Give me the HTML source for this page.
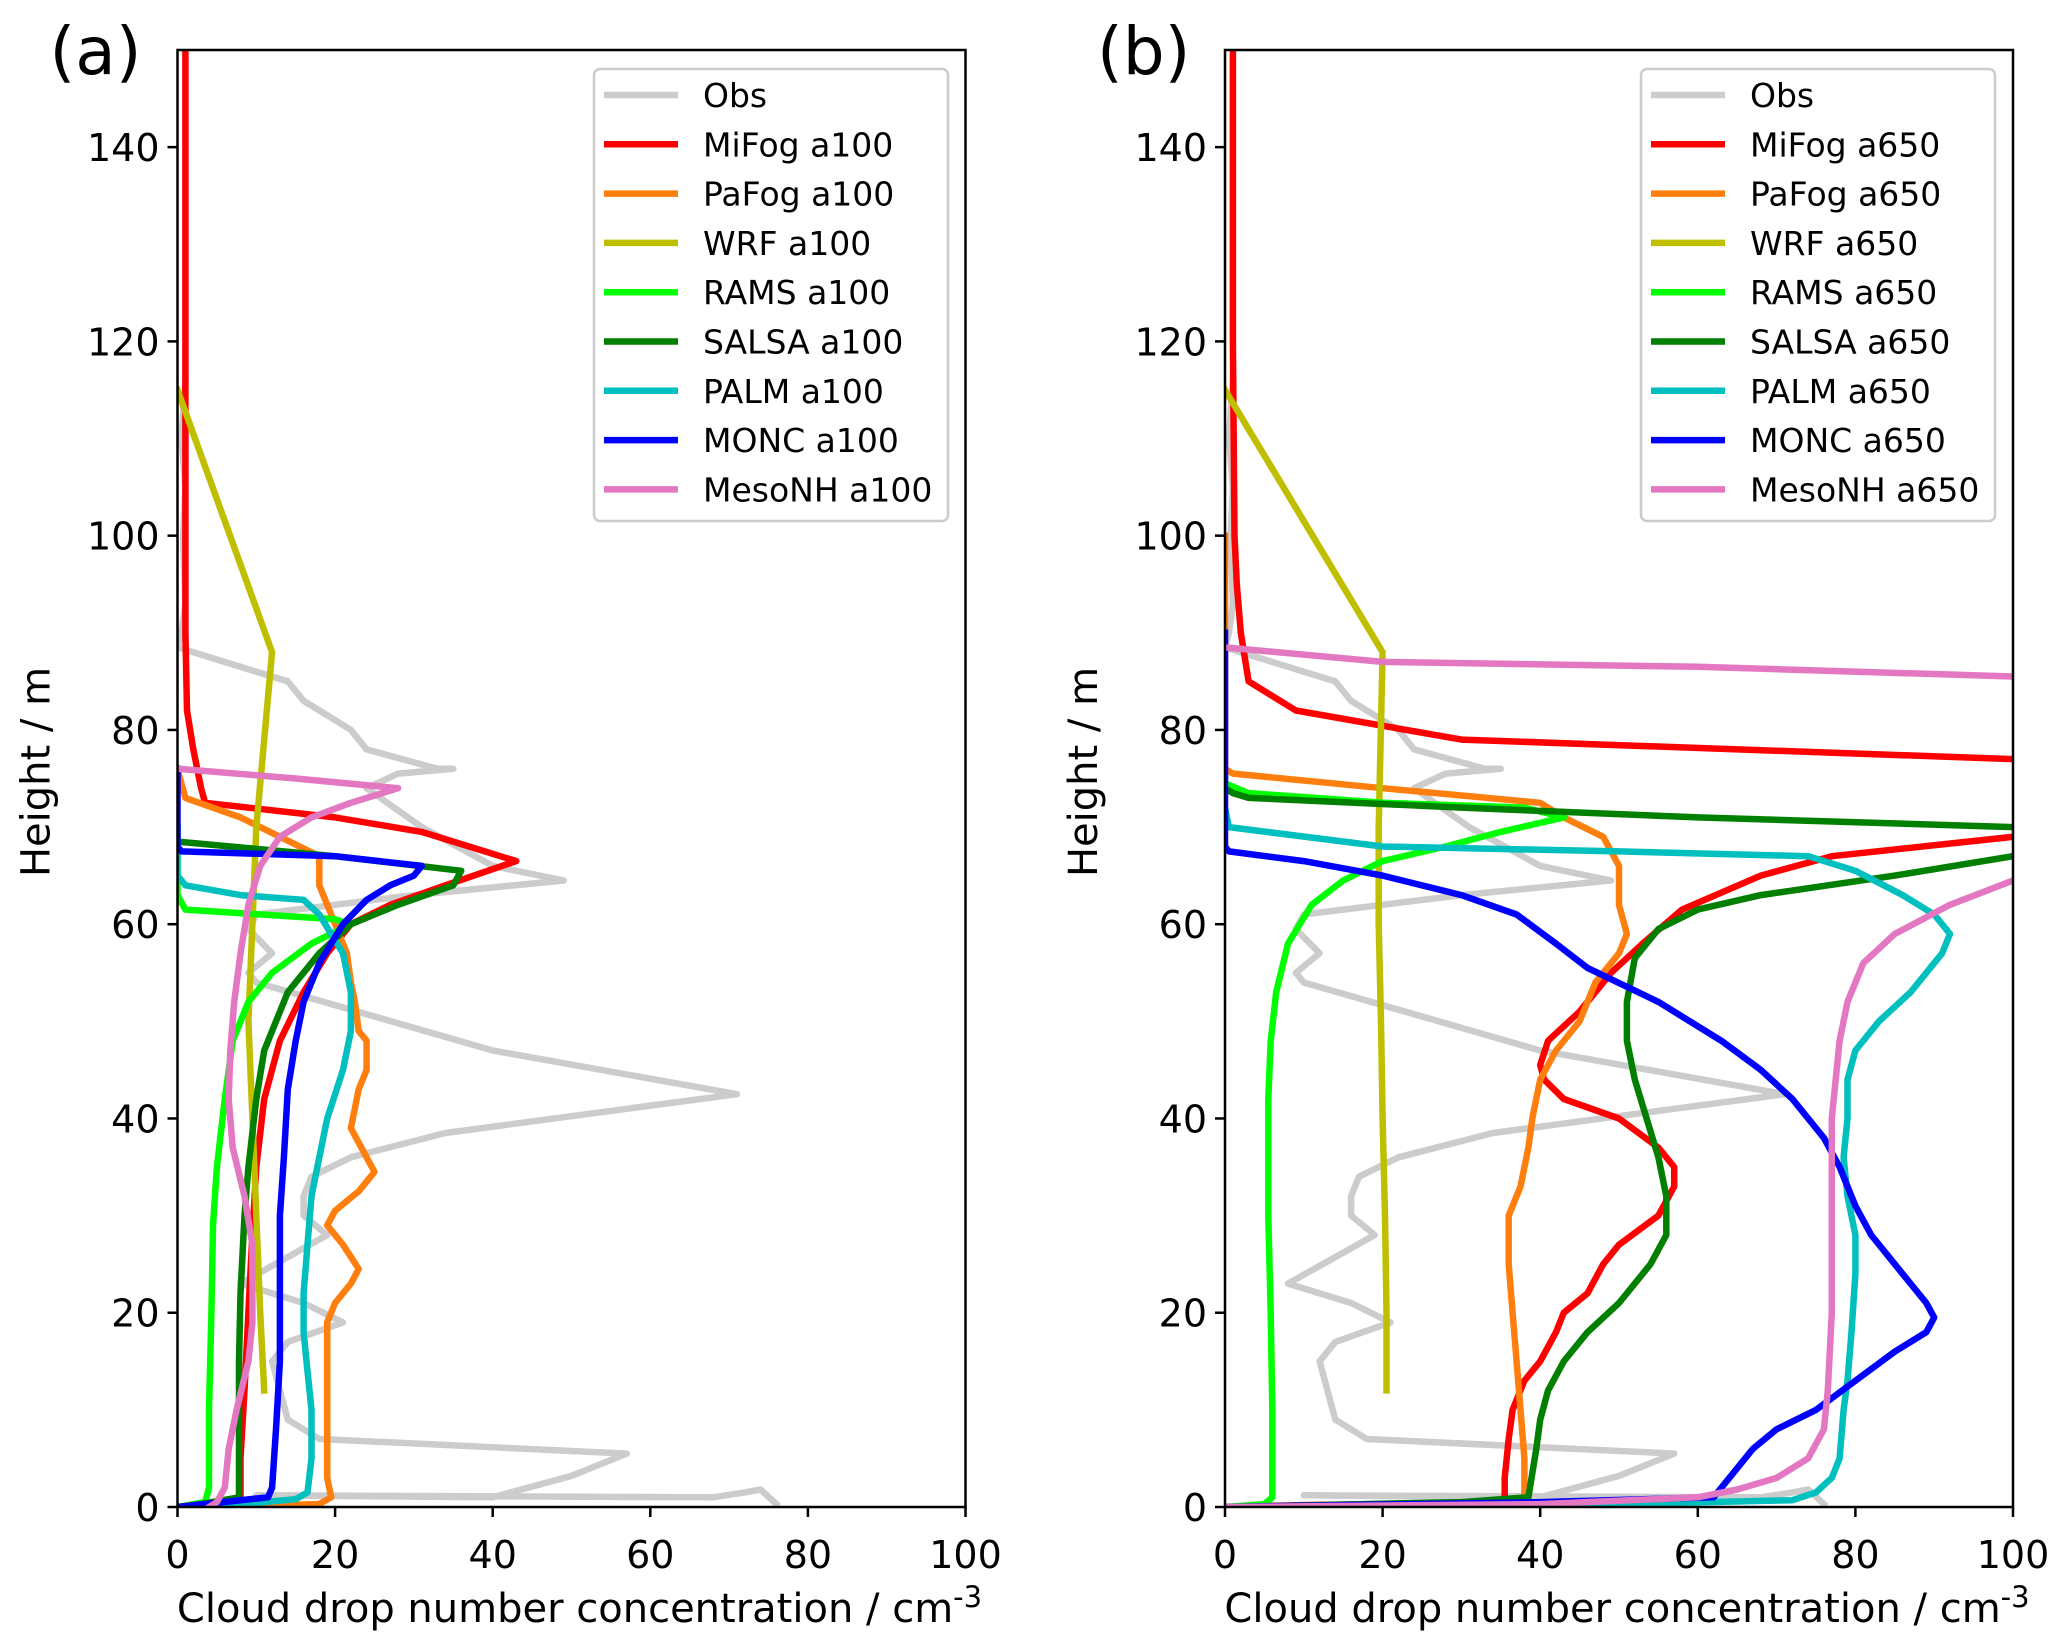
<!DOCTYPE html>
<html><head><meta charset="utf-8"><style>
html,body{margin:0;padding:0;background:#fff;}
svg{display:block;font-family:"DejaVu Sans","Liberation Sans",sans-serif;}
</style></head><body>
<svg id="fig" width="2067" height="1648" viewBox="0 0 2067 1648" xmlns="http://www.w3.org/2000/svg"></svg>
<script>
const xTicks=[0,20,40,60,80,100];
const yTicks=[0,20,40,60,80,100,120,140];
const seriesNames=["Obs","MiFog","PaFog","WRF","RAMS","SALSA","PALM","MONC","MesoNH"];
const seriesColors=["#cccccc","#ff0000","#ff7f0e","#bfbf00","#00ff00","#007f00","#00bfbf","#0000ff","#e377c2"];
const obs=[[1,116],[0.5,110],[1,105],[0.7,100],[1,93],[0.5,90],[0,88.5],[10,86],[14,85],[16,83],[22,80],[24,78],[33,76],[35,76],[28,75.5],[24,74],[31,70],[40,66],[49,64.5],[30,63],[10,61],[9,59.5],[12,57],[9,55],[10,54],[40,47],[71,42.5],[57,41],[34,38.5],[22,36],[17,34],[16,32],[16,30],[19,28],[8,23],[16,21],[21,19],[14,17],[12,15],[14,9],[18,7],[57,5.5],[50,3.2],[40,1],[10,1.2],[68,1],[72,1.5],[74,1.8],[76,0.3]];
const aMiFog=[[1,150],[1,120],[1,100],[1,90],[1.2,82],[2,78],[3,74],[3.5,72.5],[20,71],[31,69.5],[43,66.5],[34,64],[27,62],[22,60],[19,57],[16,53],[13,48],[11,42],[10,35],[9.5,28],[9,20],[8.5,12],[8,5],[8,1],[3,0.3],[0,0]];
const aPaFog=[[0,76],[1,73],[8,71],[13,69],[18,67],[18,64],[20,60],[21.5,57],[22,54],[22.5,52],[23,49],[24,48],[24,45],[23,43],[22.5,41],[22,39],[24,36],[25,34.5],[23,32.5],[20,30.5],[19,29],[21,27],[23,24.5],[22,23],[20,21],[19,19],[19,16],[19,10],[19,3],[19.5,1],[18,0.3],[0,0]];
const aWRF=[[0,115],[12,88],[10,70],[9.5,60],[9,50],[9.5,40],[10,30],[10.5,20],[11,12]];
const aRAMS=[[0,70],[0,63],[1,61.5],[20,60.5],[22,60],[17,58],[12,55],[9,52],[7,48],[6,42],[5,35],[4.5,29],[4.3,20],[4,10],[4,2],[3.5,0.5],[0,0]];
const aSALSA=[[0,69],[0,68.5],[20,67],[36,65.5],[35,64],[28,62],[22,60],[18,57],[14,53],[11,47],[10,42],[9,35],[8.5,30],[8,22],[7.8,15],[7.8,5],[7.8,1],[3,0.3],[0,0]];
const aPALM=[[0,70],[0,65],[1,64],[8,63],[16,62.5],[18,61],[21,57],[22,53],[22,49],[21,45],[19,40],[18,36],[17,32],[16.5,27],[16,22],[16,18],[16.5,14],[17,10],[17,5],[16.5,1.5],[15,0.8],[11,0.5],[0,0]];
const aMONC=[[0,76],[0,68],[0.5,67.5],[20,67],[31,66],[30,65],[27,64],[24,62.5],[21,60],[18,56],[16,52],[15,48],[14,43],[13.5,36],[13,30],[13,22],[13,15],[12.5,8],[12,2],[11.5,1],[0,0]];
const aMesoNH=[[0,76],[15,75],[28,74],[22,72.5],[17,71],[13,69],[10.5,66],[9,62],[8,57],[7.2,52],[6.7,47],[6.5,42],[7,37],[8.5,32],[9.5,27],[9.5,19],[9,15],[7.5,10],[6.5,6],[6,2],[5,0.5],[4,0]];
const bMiFog=[[1,150],[1,120],[1.2,100],[1.5,95],[2,90],[3,85],[9,82],[30,79],[100,77],null,[100,69],[77,67],[68,65],[58,61.5],[53,58],[49,55],[45,51],[41,48],[40,45.5],[40.5,44],[43,42],[50,40],[55,37],[57,35],[57,33],[55,30],[50,27],[48,25],[46,22],[43,20],[42,18],[40,15],[38,13],[36.5,10],[36,7],[35.5,3],[35.5,0.5],[10,0.2],[0,0]];
const bPaFog=[[0,100],[0,76],[1,75.5],[20,74],[40,72.5],[43,71],[48,69],[50,66],[50,62],[51,59],[50,57],[47,54],[45,50],[42,47],[40,44],[39,40],[38.5,37],[37.5,33],[36,30],[36,25],[36.5,20],[37,15],[37.5,10],[38,5],[38,1],[37,0.3],[0,0]];
const bWRF=[[0,115],[20,88],[19.5,70],[19.5,60],[19.8,50],[20,40],[20.3,30],[20.5,20],[20.5,12]];
const bRAMS=[[0,75],[0,74.5],[3,73.5],[20,72.5],[38,72],[43,71],[35,69.5],[28,68],[20,66.5],[15,64.5],[11,62],[8,58],[6.5,53],[5.8,48],[5.5,42],[5.5,30],[5.8,20],[6,10],[6,1],[5,0.3],[0,0]];
const bSALSA=[[0,74],[1,73.5],[3,73],[30,72],[60,71],[100,70],null,[100,67],[85,65],[68,63],[60,61.5],[55,59.5],[52,56.5],[51,52],[51,48],[52,44],[53.5,40],[55,36],[56,32],[56,28],[54,25],[50,21],[46,18],[43,15],[41,12],[40,9],[39.5,6],[38.5,1],[30,0.5],[0,0]];
const bPALM=[[0,72],[0.5,70],[20,68],[50,67.5],[74,67],[80,65.5],[86,63],[90,61],[92,59],[91,57],[87,53],[83,50],[80,47],[79,44],[79,40],[78.5,36],[79,32],[80,28],[80,24],[79.5,18],[79,13],[78.5,10],[78,5],[77,3],[75,1.5],[72,0.7],[50,0.3],[0,0]];
const bMONC=[[0,90],[0,68],[0.5,67.5],[10,66.5],[20,65],[30,63],[37,61],[42,58],[46,55.5],[55,52],[63,48],[68,45],[72,42],[76,38],[78,35],[80,31],[82,28],[85,25],[89,21],[90,19.5],[89,18],[85,16],[80,13],[75,10],[70,8],[67,6],[64,3],[62,1],[40,0.5],[0,0]];
const bMesoNH=[[0,88.5],[20,87],[60,86.5],[100,85.5],null,[100,64.5],[92,62],[85,59],[81,56],[79,52],[78,48],[77.5,44],[77,40],[77,30],[77,20],[76.5,12],[76,8],[74,5],[70,3],[65,1.8],[60,1],[40,0.3],[0,0]];
const panelA=[obs,aMiFog,aPaFog,aWRF,aRAMS,aSALSA,aPALM,aMONC,aMesoNH];
const panelB=[obs,bMiFog,bPaFog,bWRF,bRAMS,bSALSA,bPALM,bMONC,bMesoNH];

const NS="http://www.w3.org/2000/svg";
const svg=document.getElementById('fig');
function mk(tag,attrs,parent){const e=document.createElementNS(NS,tag);for(const k in attrs)e.setAttribute(k,attrs[k]);(parent||svg).appendChild(e);return e;}

function drawPanel(id,left,label,suffix,data,legX){
  const right=left+788, top=50, bottom=1507;
  const sx=v=>left+(v/100)*(right-left);
  const sy=v=>bottom-(v/150)*(bottom-top);
  const g=mk('g',{});
  
  
  const cp=mk('clipPath',{id:'clip'+id},g);
  mk('rect',{x:left,y:top,width:right-left,height:bottom-top},cp);
  const lines=mk('g',{'clip-path':'url(#clip'+id+')'},g);
  
  
  data.forEach((pts,i)=>{
    let d='',start=true;
    pts.forEach(p=>{ if(p===null){start=true;return;} d+=(start?'M':'L')+sx(p[0]).toFixed(1)+','+sy(p[1]).toFixed(1); start=false;});
    const path=mk('path',{d:d,fill:'none',stroke:seriesColors[i],'stroke-width':6.5,'stroke-linejoin':'round','stroke-linecap':'square'},lines);
    
    
  });
  const frame=mk('rect',{x:left,y:top,width:right-left,height:bottom-top,fill:'none',stroke:'#000','stroke-width':2.5},g);
  
  
  xTicks.forEach(t=>{
    mk('line',{x1:sx(t),x2:sx(t),y1:bottom,y2:bottom+10,stroke:'#000','stroke-width':2.5},g);
    const tx=mk('text',{x:sx(t),y:1568,'font-size':38,'text-anchor':'middle'},g);
    tx.textContent=t;
    
    
  });
  yTicks.forEach(t=>{
    mk('line',{x1:left-10,x2:left,y1:sy(t),y2:sy(t),stroke:'#000','stroke-width':2.5},g);
    const tx=mk('text',{x:left-18,y:sy(t)+14,'font-size':38,'text-anchor':'end'},g);
    tx.textContent=t;
    
    
  });
  const xt=mk('text',{x:(left+right)/2+8,y:1622,'font-size':40,'text-anchor':'middle'},g);
  xt.innerHTML='Cloud drop number concentration / cm<tspan dy="-15" font-size="29">-3</tspan>';
  
  
  const yt=mk('text',{x:0,y:0,'font-size':40,'text-anchor':'middle',transform:'translate('+(left-128)+',772) rotate(-90)'},g);
  yt.textContent='Height / m';
  
  
  const pl=mk('text',{x:left-128,y:74,'font-size':66},g);
  pl.textContent=label;
  
  
  const lg=mk('g',{},g);
  
  
  mk('rect',{x:legX,y:69,width:354,height:452,rx:6,fill:'#fff','fill-opacity':0.8,stroke:'#cccccc','stroke-width':2.5},lg);
  seriesNames.forEach((n,i)=>{
    const cy=95+i*49.3;
    const ln=mk('line',{x1:legX+10,x2:legX+84,y1:cy,y2:cy,stroke:seriesColors[i],'stroke-width':6.5},lg);
    
    
    const tx=mk('text',{x:legX+109,y:cy+12,'font-size':33},lg);
    tx.textContent=i===0?n:n+' '+suffix;
    
    
  });
}
drawPanel('a',177.5,'(a)','a100',panelA,594);
drawPanel('b',1225,'(b)','a650',panelB,1641);
</script>
</body></html>
